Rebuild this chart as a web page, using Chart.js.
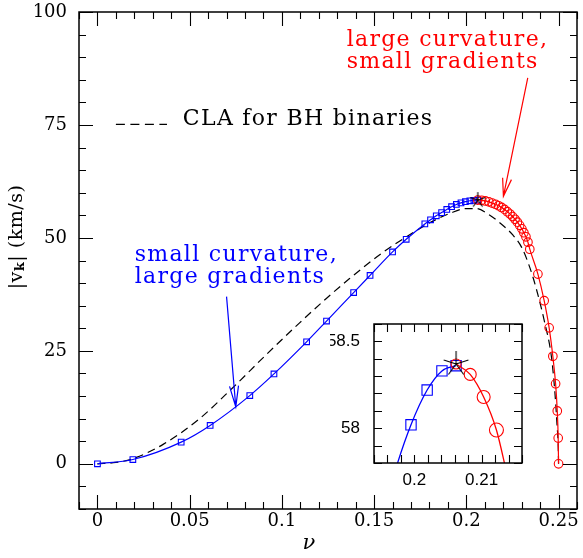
<!DOCTYPE html>
<html><head><meta charset="utf-8">
<script src="https://cdn.jsdelivr.net/npm/chart.js@4.4.1/dist/chart.umd.min.js"></script>
<style>
html,body{margin:0;padding:0;background:#fff;}
#wrap{position:relative;width:583px;height:558px;overflow:hidden;}
#main{position:absolute;left:0;top:0;width:583px;height:558px;}
#inset{position:absolute;left:330px;top:318px;width:200px;height:185px;}
</style></head><body>
<div id="wrap"><canvas id="main" width="583" height="558"></canvas><canvas id="inset" width="200" height="185"></canvas></div>
<script>
// ---------- data ----------
const blueNu = [0, 0.0192, 0.0454, 0.0611, 0.0826, 0.0957, 0.1134, 0.1242, 0.1389, 0.1478, 0.1600, 0.1674, 0.1775, 0.1806, 0.1837, 0.1866, 0.1894, 0.1920, 0.1946, 0.1971, 0.1995, 0.2019, 0.2041, 0.2062];
const blueV  = [0, 0.95, 4.8, 8.5, 15.1, 19.9, 27.0, 31.6, 37.9, 41.7, 46.9, 49.7, 53.1, 54.0, 54.9, 55.6, 56.3, 56.9, 57.4, 57.75, 58.02, 58.22, 58.33, 58.36];

const redNu = [0.2062, 0.2083, 0.2103, 0.2122, 0.2140, 0.2158, 0.2175, 0.2191, 0.2207, 0.2222, 0.2237, 0.2251, 0.2264, 0.2277, 0.2289, 0.2301, 0.2312, 0.2323, 0.2334, 0.2344, 0.2388, 0.2422, 0.2449, 0.2469, 0.2484, 0.2493, 0.2498, 0.2500];
const redV  = [58.37, 58.31, 58.18, 57.99, 57.70, 57.45, 57.12, 56.74, 56.30, 55.80, 55.28, 54.72, 54.12, 53.48, 52.78, 52.00, 51.15, 50.25, 49.05, 47.50, 42.0, 36.1, 30.1, 23.8, 17.7, 11.7, 5.7, 0];

const claNu = [0, 0.010, 0.019, 0.0356, 0.0554, 0.0735, 0.0916, 0.1096, 0.1241, 0.1367, 0.1548, 0.1729, 0.1837, 0.1909, 0.2000, 0.2054, 0.2117, 0.2180, 0.2253, 0.2300, 0.2343, 0.2379, 0.2424, 0.2461, 0.2479, 0.2491, 0.2499, 0.2500];
const claV  = [0, 0.3, 1.1, 4.3, 10.0, 16.9, 24.2, 31.2, 36.6, 41.0, 46.8, 51.6, 54.1, 55.4, 56.5, 56.5, 55.3, 53.4, 50.6, 47.9, 43.6, 38.8, 31.4, 23.8, 16.4, 9.1, 2.5, 0];

const starNu = [0.2062];
const starV  = [58.37];

const xTickVals = [0, 0.05, 0.1, 0.15, 0.2, 0.25];
const xTickLabels = ['0', '0.05', '0.1', '0.15', '0.2', '0.25'];
const yTickVals = [0, 25, 50, 75, 100];
const yTickLabels = ['0', '25', '50', '75', '100'];

const insetXTickVals = [0.2, 0.21];
const insetXTickLabels = ['0.2', '0.21'];
const insetYTickVals = [58, 58.5];
const insetYTickLabels = ['58', '58.5'];

// ---------- helpers ----------
const toPts = (xs, ys) => xs.map((x, i) => ({x, y: ys[i]}));

function makeStar(R, lw) {
  const c = document.createElement('canvas');
  const s = Math.ceil(2 * R + 4);
  c.width = s; c.height = s;
  const g = c.getContext('2d');
  g.strokeStyle = '#000'; g.lineWidth = lw;
  g.beginPath();
  for (let k = 0; k < 5; k++) {
    const a = -Math.PI / 2 + k * 2 * Math.PI / 5;
    g.moveTo(s / 2, s / 2);
    g.lineTo(s / 2 + R * Math.cos(a), s / 2 + R * Math.sin(a));
  }
  g.stroke();
  return c;
}

function framePlugin(cfg) {
  return {
    id: 'frame',
    afterDatasetsDraw(chart) {
      const {ctx, chartArea: a, scales: {x, y}} = chart;
      ctx.save();
      ctx.strokeStyle = '#000';
      ctx.lineWidth = cfg.tw;
      ctx.beginPath();
      const near = (arr, v, st) => arr.some(m => Math.abs(m - v) < st * 1e-3);
      const i0 = Math.ceil(x.min / cfg.xStep - 1e-6), i1 = Math.floor(x.max / cfg.xStep + 1e-6);
      for (let i = i0; i <= i1; i++) {
        const v = i * cfg.xStep;
        const L = near(cfg.xMaj, v, cfg.xStep) ? cfg.maj : cfg.min;
        const p = Math.round(x.getPixelForValue(v)) + 0.5;
        ctx.moveTo(p, a.bottom); ctx.lineTo(p, a.bottom - L);
        ctx.moveTo(p, a.top); ctx.lineTo(p, a.top + L);
      }
      const j0 = Math.ceil(y.min / cfg.yStep - 1e-6), j1 = Math.floor(y.max / cfg.yStep + 1e-6);
      for (let j = j0; j <= j1; j++) {
        const v = j * cfg.yStep;
        const L = near(cfg.yMaj, v, cfg.yStep) ? cfg.maj : cfg.min;
        const p = Math.round(y.getPixelForValue(v)) + 0.5;
        ctx.moveTo(a.left, p); ctx.lineTo(a.left + L, p);
        ctx.moveTo(a.right, p); ctx.lineTo(a.right - L, p);
      }
      ctx.stroke();
      ctx.lineWidth = cfg.bw;
      ctx.strokeRect(a.left, a.top, a.right - a.left, a.bottom - a.top);
      ctx.restore();
    }
  };
}

function arrow(ctx, x0, y0, x1, y1, color, L, w) {
  const dx = x1 - x0, dy = y1 - y0, d = Math.hypot(dx, dy);
  const ux = dx / d, uy = dy / d, nx = -uy, ny = ux;
  const bx = x1 - ux * L, by = y1 - uy * L;
  ctx.strokeStyle = color; ctx.lineWidth = 1.2;
  ctx.beginPath();
  ctx.moveTo(x0, y0); ctx.lineTo(x1, y1);
  ctx.moveTo(bx + nx * w, by + ny * w); ctx.lineTo(x1, y1); ctx.lineTo(bx - nx * w, by - ny * w);
  ctx.stroke();
}

const annotPlugin = {
  id: 'annot',
  afterDraw(chart) {
    const {ctx, scales: {x, y}} = chart;
    const X = v => x.getPixelForValue(v), Y = v => y.getPixelForValue(v);
    ctx.save();
    ctx.font = '22px "DejaVu Serif"';
    ctx.letterSpacing = '1.3px';
    ctx.textBaseline = 'alphabetic';
    ctx.textAlign = 'left';
    ctx.fillStyle = '#ff0000';
    ctx.fillText('large curvature,', X(0.1351), Y(92.4));
    ctx.fillText('small gradients', X(0.1351), Y(87.6));
    ctx.fillStyle = '#0000ff';
    ctx.fillText('small curvature,', X(0.0202), Y(45.0));
    ctx.fillText('large gradients', X(0.0202), Y(40.0));
    ctx.fillStyle = '#000';
    ctx.fillText('CLA for BH binaries', X(0.0463), Y(75));
    ctx.strokeStyle = '#000'; ctx.lineWidth = 1.2; ctx.setLineDash([9, 5.5]);
    ctx.beginPath(); ctx.moveTo(X(0.0100), Y(75) - 0.5); ctx.lineTo(X(0.0377), Y(75) - 0.5); ctx.stroke();
    ctx.setLineDash([]);
    arrow(ctx, X(0.2333), Y(85.4), X(0.2201), Y(59.2), '#ff0000', 18, 4.5);
    arrow(ctx, X(0.0700), Y(37.0), X(0.0750), Y(12.6), '#0000ff', 21, 4.5);

    // y axis title with subscript
    ctx.letterSpacing = '0.5px';
    ctx.fillStyle = '#000';
    ctx.translate(17, 237);
    ctx.rotate(-Math.PI / 2);
    ctx.textBaseline = 'middle';
    const parts = [['|v', '19px "DejaVu Serif"', 0], ['k', 'bold 13px "DejaVu Serif"', 4], ['| (km/s)', '19px "DejaVu Serif"', 0]];
    let tot = 0;
    parts.forEach(p => { ctx.font = p[1]; p.push(ctx.measureText(p[0]).width); tot += p[3]; });
    let cx = -tot / 2;
    parts.forEach(p => { ctx.font = p[1]; ctx.fillText(p[0], cx, p[2]); cx += p[3]; });
    ctx.restore();

    // x axis title
    ctx.save();
    ctx.font = 'italic 21px "DejaVu Serif"';
    ctx.fillStyle = '#000';
    ctx.textAlign = 'center';
    ctx.textBaseline = 'middle';
    ctx.fillText('\u03BD', 309, 544);
    ctx.restore();
  }
};

const tickFont = {family: '"DejaVu Serif"', size: 18};
const noPadX = (h) => s => { s.height = h; s.paddingLeft = 0; s.paddingRight = 0; };
const noPadY = (w) => s => { s.width = w; s.paddingTop = 0; s.paddingBottom = 0; };

new Chart(document.getElementById('main'), {
  type: 'line',
  data: {datasets: [
    {label: 'peak', data: toPts(starNu, starV), showLine: false, pointStyle: makeStar(8, 1.1), pointRadius: 7, borderColor: '#000'},
    {label: 'large curvature, small gradients', data: toPts(redNu, redV), borderColor: '#ff0000', borderWidth: 1.2,
     pointStyle: 'circle', pointRadius: 4.3, pointBorderWidth: 1.1, pointBackgroundColor: 'rgba(0,0,0,0)', cubicInterpolationMode: 'monotone'},
    {label: 'small curvature, large gradients', data: toPts(blueNu, blueV), borderColor: '#0000ff', borderWidth: 1.2,
     pointStyle: 'rect', pointRadius: 4, pointBorderWidth: 1.1, pointBackgroundColor: 'rgba(0,0,0,0)', cubicInterpolationMode: 'monotone'},
    {label: 'CLA for BH binaries', data: toPts(claNu, claV), borderColor: '#000', borderWidth: 1.2, borderDash: [8, 5],
     pointRadius: 0, cubicInterpolationMode: 'monotone'}
  ]},
  options: {
    responsive: false, animation: false, devicePixelRatio: 1, events: [],
    layout: {autoPadding: false, padding: {top: 12, right: 6, left: 0, bottom: 0}},
    plugins: {legend: {display: false}, tooltip: {enabled: false}},
    scales: {
      x: {type: 'linear', min: -0.01, max: 0.26,
          grid: {display: false, drawTicks: false}, border: {display: false},
          afterBuildTicks: s => { s.ticks = xTickVals.map(v => ({value: v})); },
          afterFit: noPadX(49),
          ticks: {font: tickFont, color: '#000', padding: 2, maxRotation: 0, autoSkip: false,
                  callback: (v, i) => xTickLabels[i]}},
      y: {type: 'linear', min: -10, max: 100,
          grid: {display: false, drawTicks: false}, border: {display: false},
          afterBuildTicks: s => { s.ticks = yTickVals.map(v => ({value: v})); },
          afterFit: noPadY(79),
          ticks: {font: tickFont, color: '#000', padding: 12, autoSkip: false,
                  callback: (v, i) => yTickLabels[i]}}
    }
  },
  plugins: [framePlugin({xStep: 0.01, yStep: 5, xMaj: xTickVals, yMaj: yTickVals, maj: 14, min: 7, tw: 1.1, bw: 1.5}), annotPlugin]
});

const insetFont = {family: '"Liberation Sans"', size: 17};
const whiteBg = {id: 'bg', beforeDatasetsDraw(chart) { const a = chart.chartArea; chart.ctx.save(); chart.ctx.fillStyle = '#fff'; chart.ctx.fillRect(a.left, a.top, a.right - a.left, a.bottom - a.top); chart.ctx.restore(); }};

new Chart(document.getElementById('inset'), {
  type: 'line',
  data: {datasets: [
    {label: 'peak', data: toPts(starNu, starV), showLine: false, pointStyle: makeStar(13, 1.1), pointRadius: 12, borderColor: '#000'},
    {label: 'large curvature', data: toPts(redNu, redV), borderColor: '#ff0000', borderWidth: 1.3,
     pointStyle: 'circle', pointRadius: redNu.map((_, i) => [5, 6, 6.5, 7][i] || 7), pointBorderWidth: 1.1,
     pointBackgroundColor: 'rgba(0,0,0,0)', cubicInterpolationMode: 'monotone'},
    {label: 'small curvature', data: toPts(blueNu, blueV), borderColor: '#0000ff', borderWidth: 1.3,
     pointStyle: 'rect', pointRadius: 7.3, pointBorderWidth: 1.1, pointBackgroundColor: 'rgba(0,0,0,0)', cubicInterpolationMode: 'monotone'}
  ]},
  options: {
    responsive: false, animation: false, devicePixelRatio: 1, events: [],
    layout: {autoPadding: false, padding: {top: 6, right: 8, left: 0, bottom: 0}},
    plugins: {legend: {display: false}, tooltip: {enabled: false}},
    scales: {
      x: {type: 'linear', min: 0.194, max: 0.216,
          grid: {display: false, drawTicks: false}, border: {display: false},
          afterBuildTicks: s => { s.ticks = insetXTickVals.map(v => ({value: v})); },
          afterFit: noPadX(40),
          ticks: {font: insetFont, color: '#000', padding: 7, maxRotation: 0, autoSkip: false,
                  callback: (v, i) => insetXTickLabels[i]}},
      y: {type: 'linear', min: 57.8, max: 58.6,
          grid: {display: false, drawTicks: false}, border: {display: false},
          afterBuildTicks: s => { s.ticks = insetYTickVals.map(v => ({value: v})); },
          afterFit: noPadY(44),
          ticks: {font: insetFont, color: '#000', padding: 14, autoSkip: false,
                  callback: (v, i) => insetYTickLabels[i]}}
    }
  },
  plugins: [whiteBg, framePlugin({xStep: 0.002, yStep: 0.1, xMaj: insetXTickVals, yMaj: insetYTickVals, maj: 8, min: 8, tw: 1.1, bw: 1.5})]
});
</script>
</body></html>
